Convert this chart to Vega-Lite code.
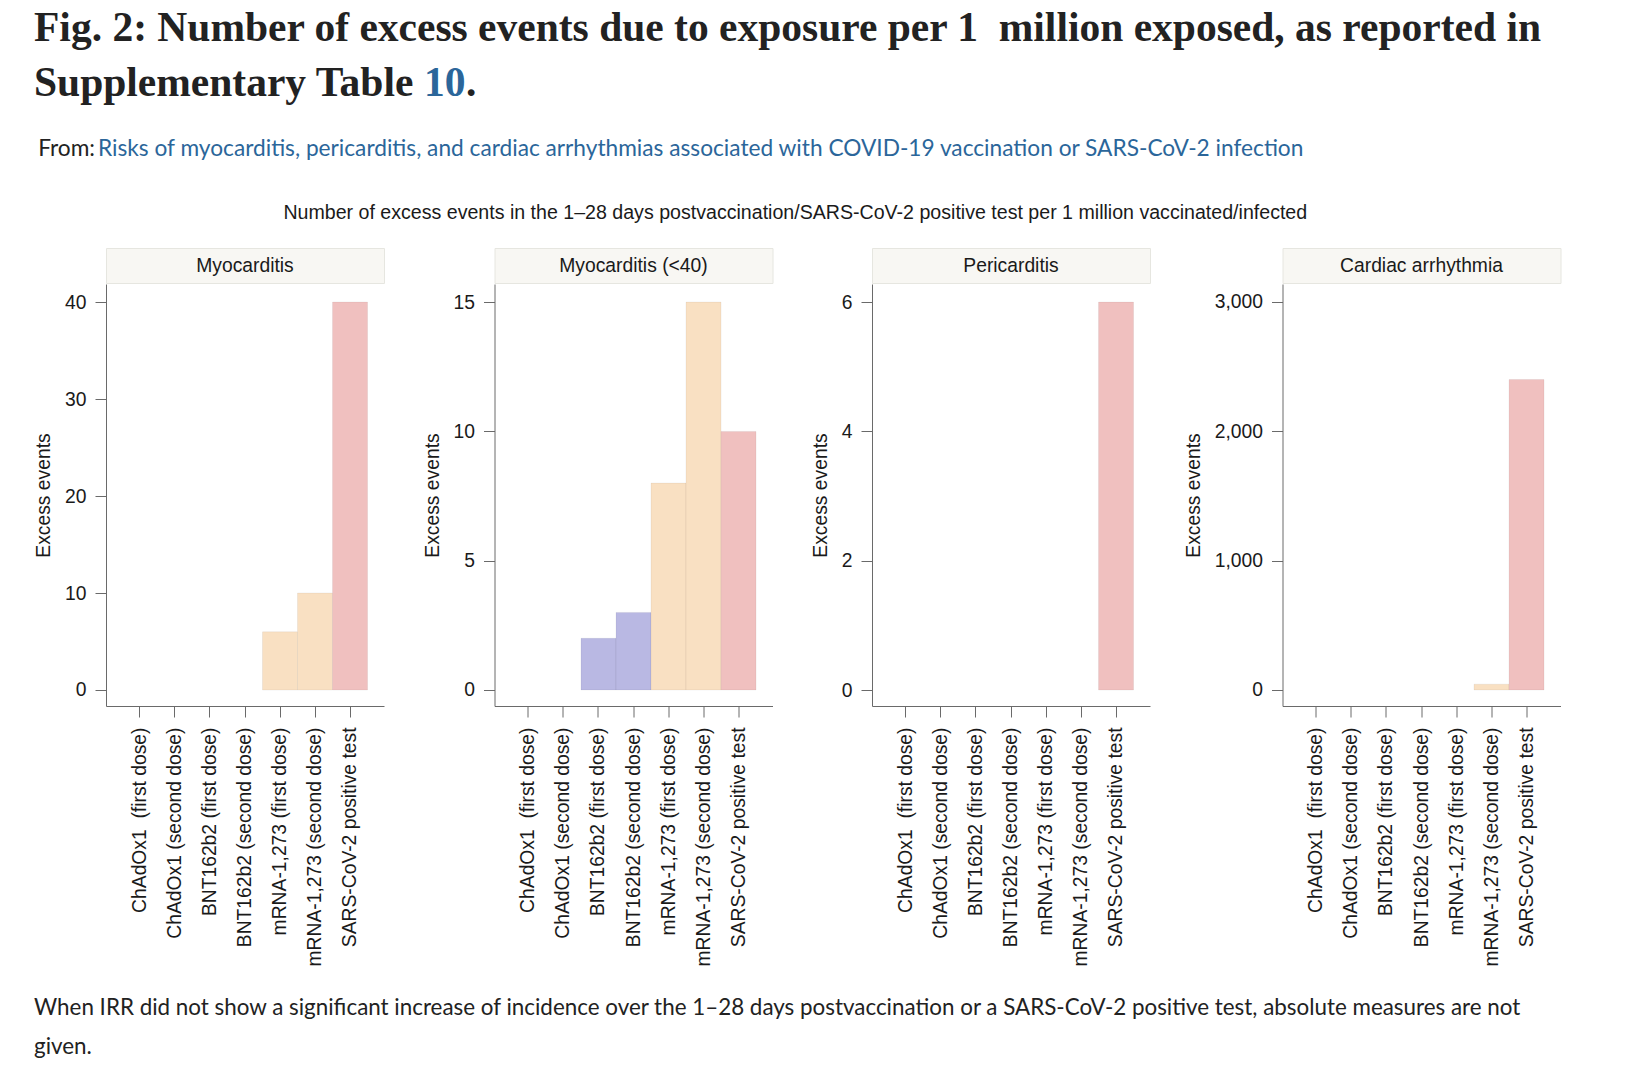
{
  "$schema": "https://vega.github.io/schema/vega-lite/v6.json",
  "background": "white",
  "padding": {"left": 34, "top": 7, "right": 10, "bottom": 0},
  "spacing": 0,
  "columns": 1,
  "align": "none",
  "datasets": {
    "bars": [
      {"outcome": "Myocarditis", "exposure": "mRNA-1,273 (first dose)", "vaccine": "mRNA-1,273", "value": 6},
      {"outcome": "Myocarditis", "exposure": "mRNA-1,273 (second dose)", "vaccine": "mRNA-1,273", "value": 10},
      {"outcome": "Myocarditis", "exposure": "SARS-CoV-2 positive test", "vaccine": "SARS-CoV-2", "value": 40},
      {"outcome": "Myocarditis (<40)", "exposure": "BNT162b2 (first dose)", "vaccine": "BNT162b2", "value": 2},
      {"outcome": "Myocarditis (<40)", "exposure": "BNT162b2 (second dose)", "vaccine": "BNT162b2", "value": 3},
      {"outcome": "Myocarditis (<40)", "exposure": "mRNA-1,273 (first dose)", "vaccine": "mRNA-1,273", "value": 8},
      {"outcome": "Myocarditis (<40)", "exposure": "mRNA-1,273 (second dose)", "vaccine": "mRNA-1,273", "value": 15},
      {"outcome": "Myocarditis (<40)", "exposure": "SARS-CoV-2 positive test", "vaccine": "SARS-CoV-2", "value": 10},
      {"outcome": "Pericarditis", "exposure": "SARS-CoV-2 positive test", "vaccine": "SARS-CoV-2", "value": 6},
      {"outcome": "Cardiac arrhythmia", "exposure": "mRNA-1,273 (second dose)", "vaccine": "mRNA-1,273", "value": 45},
      {"outcome": "Cardiac arrhythmia", "exposure": "SARS-CoV-2 positive test", "vaccine": "SARS-CoV-2", "value": 2400}
    ]
  },
  "config": {
    "view": {"stroke": null},
    "font": "Liberation Sans",
    "axis": {
      "domainColor": "#6a6a6a", "tickColor": "#6a6a6a", "tickSize": 11, "domainWidth": 1, "tickWidth": 1,
      "labelFont": "Liberation Sans", "labelFontSize": 19.3, "labelColor": "#1a1a1a", "labelLimit": 0,
      "titleFont": "Liberation Sans", "titleFontSize": 19.3, "titleFontWeight": "normal", "titleColor": "#1a1a1a",
      "grid": false
    },
    "axisX": {"labelPadding": 10},
    "axisY": {"labelPadding": 9, "titlePadding": 11}
  },
  "concat": [
    {
      "width": 1, "height": 13, "data": {"values": []}, "mark": "text",
      "title": {"text": "Fig. 2: Number of excess events due to exposure per 1\u00a0 million exposed, as reported in", "anchor": "start", "orient": "top", "offset": 0, "dx": -72, "font": "Liberation Serif", "fontWeight": "bold", "fontSize": 41.5, "color": "#222222", "limit": 0}
    },
    {
      "hconcat": [
        {
          "width": 1, "height": 34, "data": {"values": []}, "mark": "text",
          "title": {"text": "Supplementary Table", "anchor": "start", "offset": 0, "dx": -72, "font": "Liberation Serif", "fontWeight": "bold", "fontSize": 41.5, "color": "#222222", "limit": 0}
        },
        {
          "hconcat": [
            {
              "width": 1, "height": 34, "data": {"values": []}, "mark": "text",
              "title": {"text": "10", "anchor": "start", "offset": 0, "font": "Liberation Serif", "fontWeight": "bold", "fontSize": 41.5, "color": "#2b669a", "limit": 0}
            },
            {
              "width": 1, "height": 34, "data": {"values": []}, "mark": "text",
              "title": {"text": ".", "anchor": "start", "offset": 0, "font": "Liberation Serif", "fontWeight": "bold", "fontSize": 41.5, "color": "#222222", "limit": 0}
            }
          ],
          "spacing": 0
        }
      ],
      "spacing": 9
    },
    {
      "title": {"text": "From:", "orient": "left", "angle": 0, "anchor": "end", "align": "left", "baseline": "top", "offset": 3, "font": "Lato", "fontWeight": "normal", "fontSize": 22.7, "color": "#222222", "limit": 0},
      "hconcat": [
        {
          "width": 1, "height": 41, "data": {"values": []}, "mark": "text",
          "title": {"text": "Risks of myocarditis, pericarditis, and cardiac arrhythmias associated with COVID-19 vaccination or SARS-CoV-2 infection", "anchor": "start", "offset": 0, "dx": -8, "font": "Lato", "fontWeight": "normal", "fontSize": 22.7, "color": "#2b669a", "limit": 0}
        }
      ]
    },
    {
      "title": {"text": "Number of excess events in the 1\u201328 days postvaccination/SARS-CoV-2 positive test per 1 million vaccinated/infected", "anchor": "middle", "offset": 24, "dx": -2.5, "font": "Liberation Sans", "fontWeight": "normal", "fontSize": 19.6, "color": "#1a1a1a", "limit": 0},
      "spacing": 32.5,
      "hconcat": [
        {
          "spacing": 37.5,
          "hconcat": [
            {
              "spacing": 0,
              "vconcat": [
                {
                  "width": 278, "height": 35, "view": {"fill": "#f8f7f3", "stroke": "#e6e6e0"},
                  "data": {"values": [{"label": "Myocarditis"}]},
                  "mark": {"type": "text", "font": "Liberation Sans", "fontSize": 19.3, "color": "#1a1a1a"},
                  "encoding": {"text": {"field": "label"}}
                },
                {
                  "width": 278, "height": 422,
                  "data": {"name": "bars"},
                  "transform": [{"filter": "datum.outcome === 'Myocarditis'"}],
                  "mark": {"type": "bar", "stroke": "#000000", "strokeOpacity": 0.05, "strokeWidth": 1},
                  "encoding": {
                    "x": {"field": "exposure", "type": "nominal", "scale": {"domain": ["ChAdOx1\u00a0 (first dose)", "ChAdOx1 (second dose)", "BNT162b2 (first dose)", "BNT162b2 (second dose)", "mRNA-1,273 (first dose)", "mRNA-1,273 (second dose)", "SARS-CoV-2 positive test"], "paddingInner": 0, "paddingOuter": 0.47}, "axis": {"title": null, "labelAngle": -90}},
                    "y": {"field": "value", "type": "quantitative", "scale": {"domain": [-1.65, 41.86], "nice": false, "zero": false}, "axis": {"values": [0, 10, 20, 30, 40], "format": ",.0f", "title": "Excess events"}},
                    "y2": {"datum": 0},
                    "color": {"field": "vaccine", "type": "nominal", "scale": {"domain": ["ChAdOx1", "BNT162b2", "mRNA-1,273", "SARS-CoV-2"], "range": ["#bfe0cc", "#b9b8e3", "#f9e0c2", "#f0c0bf"]}, "legend": null}
                  }
                }
              ]
            },
            {
              "spacing": 0,
              "vconcat": [
                {
                  "width": 278, "height": 35, "view": {"fill": "#f8f7f3", "stroke": "#e6e6e0"},
                  "data": {"values": [{"label": "Myocarditis (<40)"}]},
                  "mark": {"type": "text", "font": "Liberation Sans", "fontSize": 19.3, "color": "#1a1a1a"},
                  "encoding": {"text": {"field": "label"}}
                },
                {
                  "width": 278, "height": 422,
                  "data": {"name": "bars"},
                  "transform": [{"filter": "datum.outcome === 'Myocarditis (<40)'"}],
                  "mark": {"type": "bar", "stroke": "#000000", "strokeOpacity": 0.05, "strokeWidth": 1},
                  "encoding": {
                    "x": {"field": "exposure", "type": "nominal", "scale": {"domain": ["ChAdOx1\u00a0 (first dose)", "ChAdOx1 (second dose)", "BNT162b2 (first dose)", "BNT162b2 (second dose)", "mRNA-1,273 (first dose)", "mRNA-1,273 (second dose)", "SARS-CoV-2 positive test"], "paddingInner": 0, "paddingOuter": 0.47}, "axis": {"title": null, "labelAngle": -90}},
                    "y": {"field": "value", "type": "quantitative", "scale": {"domain": [-0.62, 15.7], "nice": false, "zero": false}, "axis": {"values": [0, 5, 10, 15], "format": ",.0f", "title": "Excess events"}},
                    "y2": {"datum": 0},
                    "color": {"field": "vaccine", "type": "nominal", "scale": {"domain": ["ChAdOx1", "BNT162b2", "mRNA-1,273", "SARS-CoV-2"], "range": ["#bfe0cc", "#b9b8e3", "#f9e0c2", "#f0c0bf"]}, "legend": null}
                  }
                }
              ]
            },
            {
              "spacing": 0,
              "vconcat": [
                {
                  "width": 278, "height": 35, "view": {"fill": "#f8f7f3", "stroke": "#e6e6e0"},
                  "data": {"values": [{"label": "Pericarditis"}]},
                  "mark": {"type": "text", "font": "Liberation Sans", "fontSize": 19.3, "color": "#1a1a1a"},
                  "encoding": {"text": {"field": "label"}}
                },
                {
                  "width": 278, "height": 422,
                  "data": {"name": "bars"},
                  "transform": [{"filter": "datum.outcome === 'Pericarditis'"}],
                  "mark": {"type": "bar", "stroke": "#000000", "strokeOpacity": 0.05, "strokeWidth": 1},
                  "encoding": {
                    "x": {"field": "exposure", "type": "nominal", "scale": {"domain": ["ChAdOx1\u00a0 (first dose)", "ChAdOx1 (second dose)", "BNT162b2 (first dose)", "BNT162b2 (second dose)", "mRNA-1,273 (first dose)", "mRNA-1,273 (second dose)", "SARS-CoV-2 positive test"], "paddingInner": 0, "paddingOuter": 0.47}, "axis": {"title": null, "labelAngle": -90}},
                    "y": {"field": "value", "type": "quantitative", "scale": {"domain": [-0.247, 6.28], "nice": false, "zero": false}, "axis": {"values": [0, 2, 4, 6], "format": ",.0f", "title": "Excess events"}},
                    "y2": {"datum": 0},
                    "color": {"field": "vaccine", "type": "nominal", "scale": {"domain": ["ChAdOx1", "BNT162b2", "mRNA-1,273", "SARS-CoV-2"], "range": ["#bfe0cc", "#b9b8e3", "#f9e0c2", "#f0c0bf"]}, "legend": null}
                  }
                }
              ]
            }
          ]
        },
        {
          "spacing": 0,
          "vconcat": [
            {
              "width": 278, "height": 35, "view": {"fill": "#f8f7f3", "stroke": "#e6e6e0"},
              "data": {"values": [{"label": "Cardiac arrhythmia"}]},
              "mark": {"type": "text", "font": "Liberation Sans", "fontSize": 19.3, "color": "#1a1a1a"},
              "encoding": {"text": {"field": "label"}}
            },
            {
              "width": 278, "height": 422,
              "data": {"name": "bars"},
              "transform": [{"filter": "datum.outcome === 'Cardiac arrhythmia'"}],
              "mark": {"type": "bar", "stroke": "#000000", "strokeOpacity": 0.05, "strokeWidth": 1},
              "encoding": {
                "x": {"field": "exposure", "type": "nominal", "scale": {"domain": ["ChAdOx1\u00a0 (first dose)", "ChAdOx1 (second dose)", "BNT162b2 (first dose)", "BNT162b2 (second dose)", "mRNA-1,273 (first dose)", "mRNA-1,273 (second dose)", "SARS-CoV-2 positive test"], "paddingInner": 0, "paddingOuter": 0.47}, "axis": {"title": null, "labelAngle": -90}},
                "y": {"field": "value", "type": "quantitative", "scale": {"domain": [-124, 3139], "nice": false, "zero": false}, "axis": {"values": [0, 1000, 2000, 3000], "format": ",.0f", "title": "Excess events"}},
                "y2": {"datum": 0},
                "color": {"field": "vaccine", "type": "nominal", "scale": {"domain": ["ChAdOx1", "BNT162b2", "mRNA-1,273", "SARS-CoV-2"], "range": ["#bfe0cc", "#b9b8e3", "#f9e0c2", "#f0c0bf"]}, "legend": null}
              }
            }
          ]
        }
      ],
      "resolve": {"scale": {"y": "independent", "x": "independent", "color": "shared"}}
    },
    {
      "width": 1, "height": 31, "data": {"values": []}, "mark": "text",
      "title": {"text": ["When IRR did not show a significant increase of incidence over the 1\u201328 days postvaccination or a SARS-CoV-2 positive test, absolute measures are not", "given."], "orient": "bottom", "anchor": "start", "offset": 0, "dx": -72, "font": "Lato", "fontWeight": "normal", "fontSize": 22.4, "lineHeight": 39, "color": "#222222", "limit": 0}
    }
  ]
}
